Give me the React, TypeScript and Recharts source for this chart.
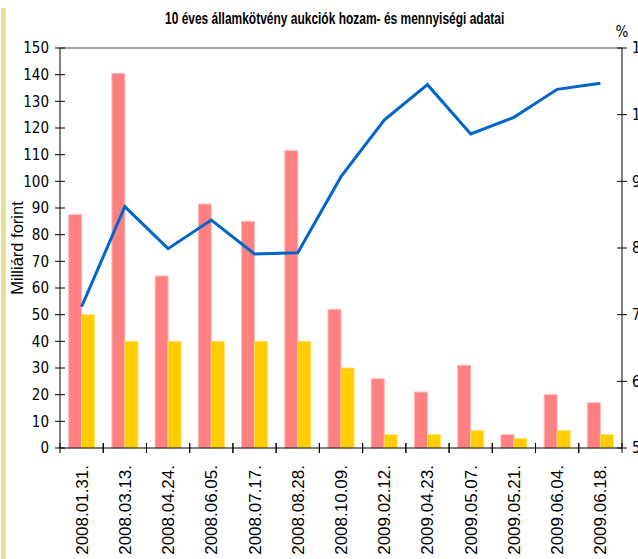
import { Bar, ComposedChart, Line, ReferenceLine, XAxis, YAxis } from "recharts";

const categories = [
  "2008.01.31.",
  "2008.03.13.",
  "2008.04.24.",
  "2008.06.05.",
  "2008.07.17.",
  "2008.08.28.",
  "2008.10.09.",
  "2009.02.12.",
  "2009.04.23.",
  "2009.05.07.",
  "2009.05.21.",
  "2009.06.04.",
  "2009.06.18.",
];

// Milliárd forint
const submitted = [87.5, 140.5, 64.5, 91.5, 85, 111.5, 52, 26, 21, 31, 5, 20, 17];
const accepted = [50, 40, 40, 40, 40, 40, 30, 5, 5, 6.5, 3.5, 6.5, 5];
// %
const yields = [7.12, 8.62, 7.99, 8.42, 7.91, 7.93, 9.07, 9.92, 10.45, 9.71, 9.96, 10.38, 10.47];

const leftTicks = [0, 10, 20, 30, 40, 50, 60, 70, 80, 90, 100, 110, 120, 130, 140, 150];
const rightTicks = [5, 6, 7, 8, 9, 10, 11];

const title = "10 éves államkötvény aukciók hozam- és mennyiségi adatai";

const narrow = '"Liberation Sans Narrow", "Arial Narrow", "DejaVu Sans Condensed", sans-serif';
const regular = '"Liberation Sans", Arial, sans-serif';

const data = categories.map((date, i) => ({
  date,
  submitted: submitted[i],
  accepted: accepted[i],
  yield: yields[i],
}));

function LeftTick({ x, y, payload }: any) {
  return (
    <g>
      <line x1={x - 5} x2={x + 5} y1={y} y2={y} stroke="#000" />
      <text x={x - 11} y={y} dy="0.35em" textAnchor="end" fontSize={15} fontFamily={narrow} fill="#000">
        {payload.value}
      </text>
    </g>
  );
}

function RightTick({ x, y, payload }: any) {
  return (
    <g>
      <line x1={x - 5} x2={x + 5} y1={y} y2={y} stroke="#000" />
      <text x={x + 10} y={y} dy="0.35em" textAnchor="start" fontSize={15} fontFamily={narrow} fill="#000">
        {payload.value}
      </text>
    </g>
  );
}

function DateTick({ x, y, payload }: any) {
  const half = payload?.offset || 21.6;
  return (
    <g>
      <line x1={x - half} x2={x - half} y1={y - 5} y2={y + 5} stroke="#000" />
      <line x1={x + half} x2={x + half} y1={y - 5} y2={y + 5} stroke="#000" />
      <text
        x={x + 6}
        y={y + 17}
        textAnchor="end"
        fontSize={17}
        fontFamily={regular}
        fill="#000"
        transform={`rotate(-90, ${x + 6}, ${y + 17})`}
      >
        {payload.value}
      </text>
    </g>
  );
}

export default function App() {
  return (
    <div
      style={{
        position: "absolute",
        left: 0,
        top: 0,
        width: 638,
        height: 559,
        overflow: "hidden",
        background: "#fff",
      }}
    >
      <div style={{ position: "absolute", left: 1, top: 8, width: 5, height: 551, background: "#EADF98" }} />
      <svg style={{ position: "absolute", left: 0, top: 0 }} width={600} height={40}>
        {/* bold Arial squeezed to look like the narrow face of the original */}
        <text
          transform="translate(165, 24) scale(0.726, 1)"
          fontSize={16.5}
          fontWeight="bold"
          fontFamily={regular}
          fill="#000"
        >
          {title}
        </text>
      </svg>
      <div style={{ position: "absolute", left: 0, top: 0 }}>
        <ComposedChart
          width={700}
          height={600}
          data={data}
          margin={{ top: 48, right: 38, left: 0, bottom: 42 }}
          barCategoryGap="20%"
          barGap={0}
          style={{ fontFamily: regular }}
        >
          <XAxis
            dataKey="date"
            height={110}
            interval={0}
            stroke="#000"
            tickLine={false}
            tickSize={0}
            tickMargin={0}
            tick={<DateTick />}
          />
          <YAxis
            yAxisId="left"
            width={60}
            domain={[0, 150]}
            ticks={leftTicks}
            interval={0}
            stroke="#000"
            tickLine={false}
            tickSize={0}
            tickMargin={0}
            tick={<LeftTick />}
            label={({ viewBox }: any) => {
              const cx = viewBox.x + 23;
              const cy = viewBox.y + viewBox.height / 2;
              return (
                <text
                  x={cx}
                  y={cy}
                  textAnchor="middle"
                  fontSize={16.5}
                  fontFamily={regular}
                  fill="#000"
                  transform={`rotate(-90, ${cx}, ${cy})`}
                >
                  Milliárd forint
                </text>
              );
            }}
          />
          <YAxis
            yAxisId="right"
            orientation="right"
            width={40}
            domain={[5, 11]}
            ticks={rightTicks}
            interval={0}
            stroke="#000"
            tickLine={false}
            tickSize={0}
            tickMargin={0}
            tick={<RightTick />}
            label={({ viewBox }: any) => (
              <text
                x={viewBox.x}
                y={viewBox.y - 11}
                textAnchor="middle"
                fontSize={15}
                fontFamily={narrow}
                fill="#000"
              >
                %
              </text>
            )}
          />
          <ReferenceLine yAxisId="left" y={150} stroke="#A6A6A6" strokeWidth={2} />
          <Bar
            yAxisId="left"
            dataKey="submitted"
            name="Benyújtott ajánlatok"
            fill="#FF8080"
            stroke="#FFB8B8"
            strokeWidth={1}
            isAnimationActive={false}
          />
          <Bar
            yAxisId="left"
            dataKey="accepted"
            name="Elfogadott mennyiség"
            fill="#FFCC00"
            stroke="#FFE066"
            strokeWidth={1}
            isAnimationActive={false}
          />
          <Line
            yAxisId="right"
            dataKey="yield"
            name="Átlaghozam"
            type="linear"
            stroke="#0066CC"
            strokeWidth={3}
            dot={false}
            isAnimationActive={false}
          />
        </ComposedChart>
      </div>
    </div>
  );
}
